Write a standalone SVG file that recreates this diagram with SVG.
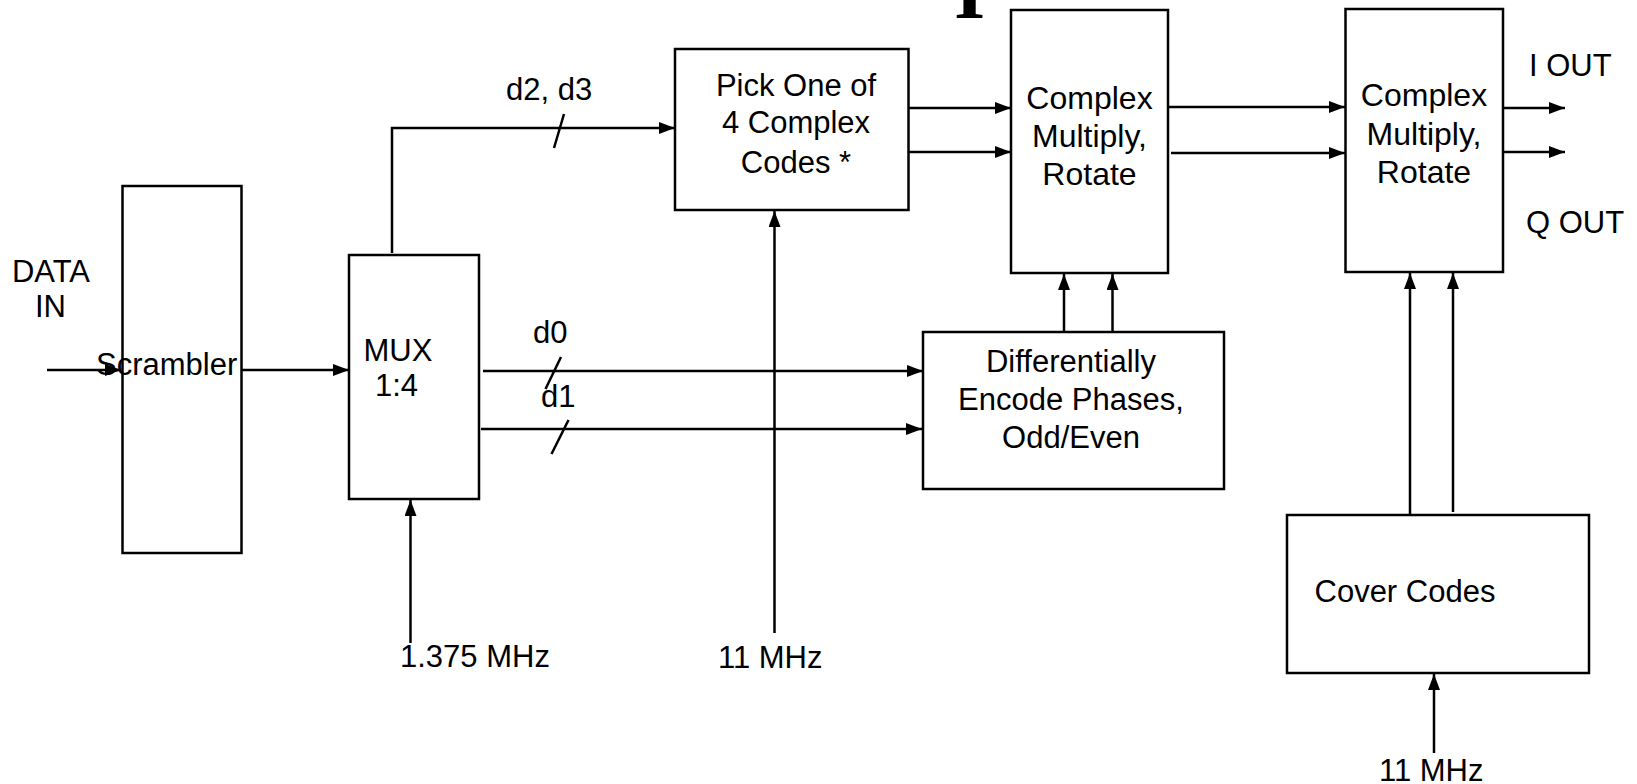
<svg xmlns="http://www.w3.org/2000/svg" width="1637" height="784" viewBox="0 0 1637 784">
<style>
.box{fill:#fff;stroke:#000;stroke-width:2.5}
.ln{fill:none;stroke:#000;stroke-width:2.5}
.t{font-family:"Liberation Sans",Arial,sans-serif;font-size:31px;fill:#000}
.m{text-anchor:middle}
.c{font-size:32px}
</style>
<defs>
<marker id="ah" markerUnits="userSpaceOnUse" markerWidth="17" markerHeight="12" refX="16" refY="6" orient="auto">
<path d="M0,0 L16,6 L0,12 z" fill="#000"/>
</marker>
</defs>
<rect width="1637" height="784" fill="#fff"/>
<text x="969.5" y="18" font-family="'Liberation Serif',serif" font-weight="bold" font-size="80" text-anchor="middle">I</text>

<g id="connectors">
<line class="ln" x1="47" y1="370" x2="121" y2="370" marker-end="url(#ah)"/>
<line class="ln" x1="242" y1="370" x2="349" y2="370" marker-end="url(#ah)"/>
<polyline class="ln" points="392,253 392,128 675,128" marker-end="url(#ah)"/>
<line class="ln" x1="564" y1="114" x2="554" y2="148"/>
<line class="ln" x1="483" y1="371" x2="923" y2="371" marker-end="url(#ah)"/>
<line class="ln" x1="561" y1="357" x2="545.5" y2="389"/>
<line class="ln" x1="481" y1="429" x2="922" y2="429" marker-end="url(#ah)"/>
<line class="ln" x1="568.5" y1="420" x2="551.5" y2="454"/>
<line class="ln" x1="410.5" y1="643" x2="410.5" y2="500" marker-end="url(#ah)"/>
<line class="ln" x1="774.5" y1="633" x2="774.5" y2="211" marker-end="url(#ah)"/>
<line class="ln" x1="908" y1="108" x2="1011" y2="108" marker-end="url(#ah)"/>
<line class="ln" x1="908" y1="152" x2="1011" y2="152" marker-end="url(#ah)"/>
<line class="ln" x1="1168" y1="107" x2="1345" y2="107" marker-end="url(#ah)"/>
<line class="ln" x1="1171" y1="153" x2="1345" y2="153" marker-end="url(#ah)"/>
<line class="ln" x1="1503" y1="108" x2="1565" y2="108" marker-end="url(#ah)"/>
<line class="ln" x1="1503" y1="152" x2="1565" y2="152" marker-end="url(#ah)"/>
<line class="ln" x1="1064" y1="332" x2="1064" y2="274" marker-end="url(#ah)"/>
<line class="ln" x1="1112.5" y1="332" x2="1112.5" y2="274" marker-end="url(#ah)"/>
<line class="ln" x1="1410" y1="515" x2="1410" y2="273" marker-end="url(#ah)"/>
<line class="ln" x1="1453" y1="512" x2="1453" y2="273" marker-end="url(#ah)"/>
<line class="ln" x1="1434" y1="753" x2="1434" y2="674" marker-end="url(#ah)"/>
</g>

<g id="scrambler">
<rect class="box" x="122.5" y="186" width="119" height="367" style="fill:none"/>
<text class="t" x="96" y="375">Scrambler</text>
</g>
<g id="mux">
<rect class="box" x="349" y="255" width="130" height="244"/>
<text class="t m" x="398" y="361">MUX</text>
<text class="t m" x="396.5" y="396">1:4</text>
</g>
<g id="pick">
<rect class="box" x="675" y="49" width="233.5" height="161"/>
<text class="t m" x="796" y="96">Pick One of</text>
<text class="t m" x="796" y="133">4 Complex</text>
<text class="t m" x="796" y="173">Codes *</text>
</g>
<g id="cmr1">
<rect class="box" x="1011" y="10" width="157" height="263"/>
<text class="t m c" x="1089.5" y="108.5">Complex</text>
<text class="t m c" x="1089.5" y="146.5">Multiply,</text>
<text class="t m c" x="1089.5" y="184.5">Rotate</text>
</g>
<g id="cmr2">
<rect class="box" x="1345.5" y="9" width="157.5" height="263"/>
<text class="t m c" x="1424" y="106">Complex</text>
<text class="t m c" x="1424" y="145">Multiply,</text>
<text class="t m c" x="1424" y="183">Rotate</text>
</g>
<g id="diff">
<rect class="box" x="923" y="332" width="301" height="157"/>
<text class="t m" x="1071" y="372">Differentially</text>
<text class="t m" x="1071" y="410">Encode Phases,</text>
<text class="t m" x="1071" y="448">Odd/Even</text>
</g>
<g id="cover">
<rect class="box" x="1287" y="515" width="302" height="158"/>
<text class="t" x="1314.5" y="602">Cover Codes</text>
</g>
<g id="labels">
<text class="t m" x="51" y="282">DATA</text>
<text class="t m" x="50.5" y="317">IN</text>
<text class="t" x="506" y="100">d2, d3</text>
<text class="t" x="533" y="343">d0</text>
<text class="t" x="541" y="407">d1</text>
<text class="t" x="400" y="667">1.375 MHz</text>
<text class="t" x="718" y="668">11 MHz</text>
<text class="t" x="1379" y="781">11 MHz</text>
<text class="t" x="1529" y="76">I OUT</text>
<text class="t" x="1526" y="233">Q OUT</text>
</g>
</svg>
